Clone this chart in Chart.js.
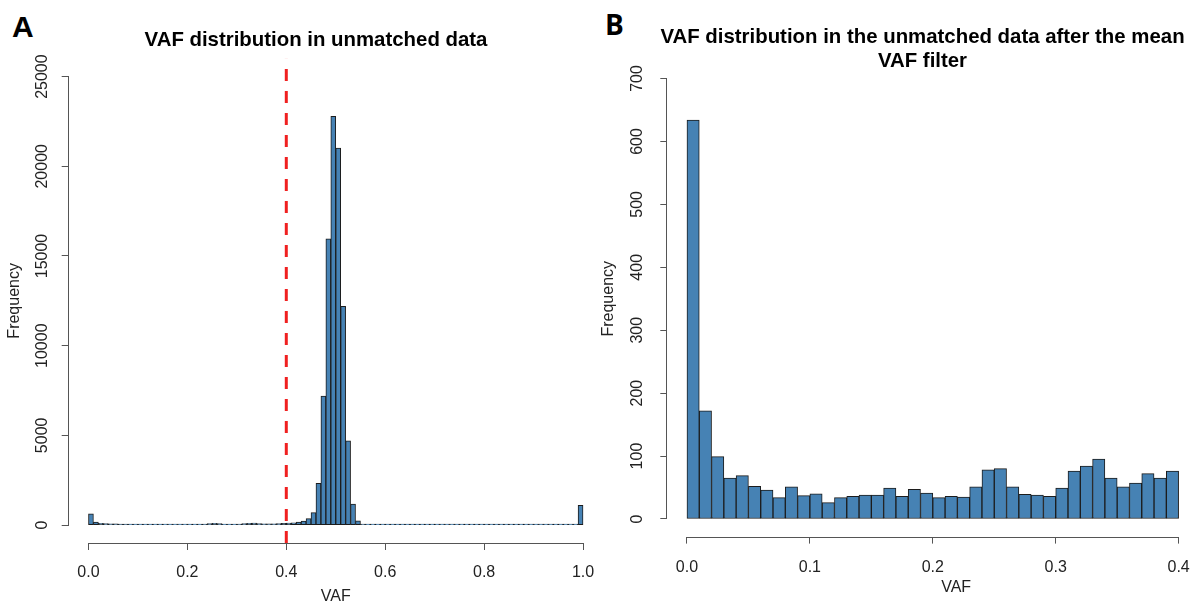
<!DOCTYPE html>
<html>
<head>
<meta charset="utf-8">
<title>VAF histograms</title>
<script src="https://cdn.jsdelivr.net/npm/chart.js@4.4.1/dist/chart.umd.min.js"></script>
<style>
  html, body { margin: 0; padding: 0; background: #fff; }
  body { width: 1197px; height: 604px; position: relative; overflow: hidden; }
  canvas { position: absolute; top: 0; }
  #vafAll { left: 0; }
  #vafFiltered { left: 600px; }
  .tag { position: absolute; line-height: 1; color: #000; font-weight: bold; }
  #tagA { left: 12px; top: 12px; font-size: 30px; font-family: 'Liberation Sans', Arial, sans-serif; }
  #tagB { left: 605px; top: 10px; font-size: 28px; font-family: 'Open Sans', sans-serif; }
</style>
</head>
<body>
<div class="tag" id="tagA">A</div>
<div class="tag" id="tagB">B</div>
<canvas id="vafAll" width="610" height="604"></canvas>
<canvas id="vafFiltered" width="645" height="604"></canvas>
<script>
// VAF histograms: all unmatched variants (A) and what is left after the mean-VAF filter (B)

const FONT = "'Liberation Sans', Arial, Helvetica, sans-serif";
const BAR_FILL = '#4682b4';
const BAR_EDGE = '#1c1c1c';
const AXIS_COLOR = '#555';
const TEXT_COLOR = '#222';

// --- A: 0.01 bins over [0, 1]
const BIN_WIDTH_A = 0.01;
const COUNTS_A = [
  620, 160, 100, 80, 70, 65, 60, 60, 55, 55,
  50, 50, 50, 48, 48, 50, 48, 50, 52, 50,
  50, 48, 52, 60, 85, 100, 80, 55, 52, 55,
  60, 80, 100, 105, 85, 70, 65, 70, 80, 90,
  110, 130, 160, 220, 360, 690, 2320, 7190, 15960, 22780,
  21020, 12190, 4690, 1170, 240, 60, 30, 22, 16, 12,
  10, 9, 8, 8, 7, 7, 6, 6, 6, 5,
  5, 5, 5, 4, 4, 5, 4, 4, 4, 5,
  4, 4, 5, 4, 4, 5, 5, 5, 5, 6,
  6, 6, 7, 7, 8, 9, 10, 12, 14, 1100
];
const X_TICKS_A = [0, 0.2, 0.4, 0.6, 0.8, 1.0];
const Y_TICKS_A = [0, 5000, 10000, 15000, 20000, 25000];
const X_RANGE_A = [-0.04, 1.04];
const Y_RANGE_A = [-1000, 26000];
const CUTOFF_A = 0.4;
const TITLE_A = 'VAF distribution in unmatched data';

// --- B: 0.01 bins over [0, 0.4]
const BIN_WIDTH_B = 0.01;
const COUNTS_B = [
  634, 172, 99, 65, 69, 52, 46, 34, 51, 37,
  40, 26, 34, 36, 38, 38, 49, 36, 47, 41,
  34, 36, 35, 51, 78, 80, 51, 39, 38, 36,
  49, 76, 84, 95, 65, 51, 57, 72, 65, 76
];
const X_TICKS_B = [0, 0.1, 0.2, 0.3, 0.4];
const Y_TICKS_B = [0, 100, 200, 300, 400, 500, 600, 700];
// right end runs past the page edge so the title centres where it should
const X_RANGE_B = [-0.016, 0.454];
const Y_RANGE_B = [-28, 728];
const TITLE_B = ['VAF distribution in the unmatched data after the mean', 'VAF filter'];

// base-graphics style axes: the line only runs between the first and last tick
const rAxisLines = {
  id: 'rAxisLines',
  afterDraw(chart) {
    const { ctx, chartArea, scales: { x, y } } = chart;
    const xt = x.ticks, yt = y.ticks;
    const by = Math.round(chartArea.bottom) + 0.5;
    const lx = Math.round(chartArea.left) - 0.5;
    ctx.save();
    ctx.strokeStyle = AXIS_COLOR;
    ctx.lineWidth = 1;
    ctx.beginPath();
    ctx.moveTo(x.getPixelForValue(xt[0].value), by);
    ctx.lineTo(x.getPixelForValue(xt[xt.length - 1].value), by);
    ctx.moveTo(lx, y.getPixelForValue(yt[0].value));
    ctx.lineTo(lx, y.getPixelForValue(yt[yt.length - 1].value));
    ctx.stroke();
    ctx.restore();
  }
};

function binPoints(counts, width) {
  return counts.map((c, i) => ({ x: (i + 0.5) * width, y: c }));
}

const tickGrid = { display: true, drawOnChartArea: false, drawTicks: true, tickLength: 7, color: AXIS_COLOR, offset: false };

function renderHistogram(canvasId, p) {
  const datasets = [];
  if (p.cutoff !== undefined) {
    datasets.push({
      type: 'line',
      data: [{ x: p.cutoff, y: p.yRange[0] }, { x: p.cutoff, y: p.yRange[1] }],
      borderColor: '#f02020', borderWidth: 3, borderDash: [12, 10],
      pointRadius: 0, fill: false,
    });
  }
  datasets.push({
    type: 'bar',
    data: binPoints(p.counts, p.binWidth),
    backgroundColor: BAR_FILL, borderColor: BAR_EDGE, borderWidth: 1,
    borderSkipped: false, minBarLength: 1,
    categoryPercentage: 1, barPercentage: 1,
  });

  return new Chart(document.getElementById(canvasId), {
    type: 'bar',
    data: { datasets },
    options: {
      responsive: false,
      animation: false,
      events: [],
      layout: { padding: p.padding },
      plugins: {
        legend: { display: false },
        tooltip: { enabled: false },
        title: {
          display: true, text: p.title, color: '#000',
          font: { family: FONT, size: 20.4, weight: 'bold', lineHeight: p.titleLineHeight },
          padding: p.titlePad,
        },
      },
      scales: {
        x: {
          type: 'linear', min: p.xRange[0], max: p.xRange[1], offset: false,
          afterBuildTicks: s => { s.ticks = p.xTicks.map(v => ({ value: v })); },
          afterFit: s => { s.height = p.xAxisHeight; },
          grid: tickGrid,
          border: { display: false },
          ticks: { autoSkip: false, maxRotation: 0, padding: p.xTickPad, color: TEXT_COLOR, font: { family: FONT, size: 16 }, callback: v => v.toFixed(1) },
          title: { display: true, text: 'VAF', color: TEXT_COLOR, font: { family: FONT, size: 16 }, padding: { top: 0, bottom: p.xTitlePad } },
        },
        y: {
          type: 'linear', min: p.yRange[0], max: p.yRange[1],
          afterBuildTicks: s => { s.ticks = p.yTicks.map(v => ({ value: v })); },
          afterFit: s => { s.width = p.yAxisWidth; },
          grid: tickGrid,
          border: { display: false },
          ticks: { autoSkip: false, minRotation: 90, maxRotation: 90, crossAlign: 'center', padding: p.yTickPad, color: TEXT_COLOR, font: { family: FONT, size: 16 }, callback: v => String(v) },
          title: { display: true, text: 'Frequency', color: TEXT_COLOR, font: { family: FONT, size: 16 }, padding: { top: p.yTitlePad, bottom: 0 } },
        },
      },
    },
    plugins: [rAxisLines],
  });
}

renderHistogram('vafAll', {
  counts: COUNTS_A, binWidth: BIN_WIDTH_A, cutoff: CUTOFF_A,
  xTicks: X_TICKS_A, yTicks: Y_TICKS_A, xRange: X_RANGE_A, yRange: Y_RANGE_A,
  title: TITLE_A, titleLineHeight: 1.2, titlePad: { top: 28.6, bottom: 5.6 },
  padding: { left: 29.2, right: 7.2, top: 0, bottom: 0 },
  yAxisWidth: 39.5, xAxisHeight: 61,
  yTickPad: -3.5, yTitlePad: -23.8, xTickPad: 13.4, xTitlePad: -2.6,
});

renderHistogram('vafFiltered', {
  counts: COUNTS_B, binWidth: BIN_WIDTH_B,
  xTicks: X_TICKS_B, yTicks: Y_TICKS_B, xRange: X_RANGE_B, yRange: Y_RANGE_B,
  title: TITLE_B, titleLineHeight: 1.176, titlePad: { top: 25, bottom: -12.1 },
  padding: { left: 0, right: 0, top: 0, bottom: 0 },
  yAxisWidth: 67.3, xAxisHeight: 67.4,
  yTickPad: 8.95, yTitlePad: -0.6, xTickPad: 14.8, xTitlePad: 7.1,
});
</script>
</body>
</html>
